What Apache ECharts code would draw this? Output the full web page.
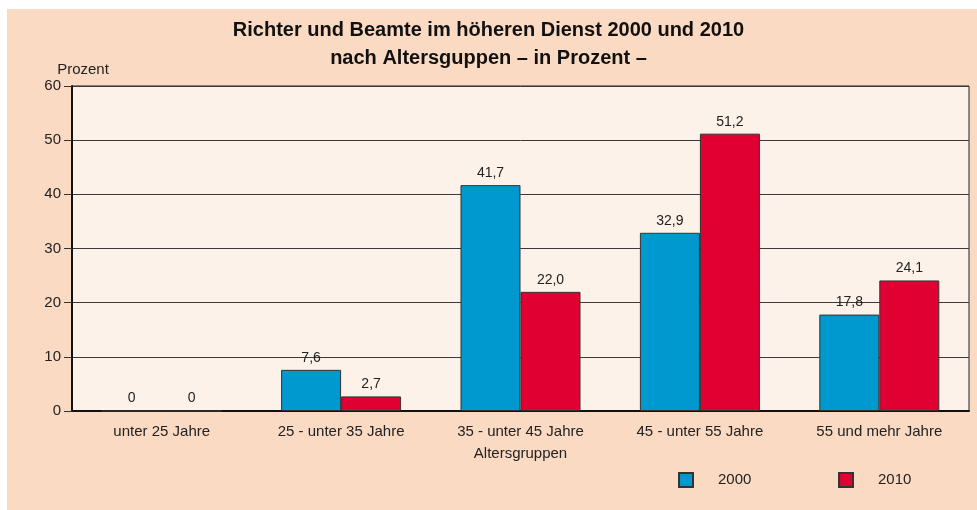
<!DOCTYPE html>
<html>
<head>
<meta charset="utf-8">
<style>
  html, body { margin: 0; padding: 0; background: #fff; }
  #chart { width: 977px; height: 510px; }
</style>
<script src="https://cdn.jsdelivr.net/npm/echarts@6/dist/echarts.min.js"></script>
</head>
<body>
<div id="chart"></div>
<script>
const categories = ['unter 25 Jahre', '25 - unter 35 Jahre', '35 - unter 45 Jahre', '45 - unter 55 Jahre', '55 und mehr Jahre']
const values2000 = [0, 7.6, 41.7, 32.9, 17.8]
const values2010 = [0, 2.7, 22.0, 51.2, 24.1]

const font = 'Liberation Sans, Arial, sans-serif'
const fmt = p => (p.value === 0 ? '0' : p.value.toFixed(1).replace('.', ','))

const chart = echarts.init(document.getElementById('chart'))
chart.setOption({
  backgroundColor: '#fff',
  animation: false,
  textStyle: { fontFamily: font },
  graphic: [{
    type: 'rect',
    z: -10,
    silent: true,
    shape: { x: 7, y: 9, width: 970, height: 501 },
    style: { fill: '#FBDAC3' }
  }],
  title: {
    text: 'Richter und Beamte im höheren Dienst 2000 und 2010\nnach Altersguppen – in Prozent –',
    left: 'center',
    top: 11,
    padding: [5, 5, 5, 26],
    textStyle: { fontFamily: font, fontSize: 20, fontWeight: 'bold', color: '#111', lineHeight: 28 }
  },
  legend: [{
    data: ['2000'],
    left: 678, top: 472,
    padding: 0,
    itemWidth: 14, itemHeight: 14,
    icon: 'rect',
    textStyle: { fontFamily: font, fontSize: 15, color: '#222', padding: [0, 0, 0, 20] }
  }, {
    data: ['2010'],
    left: 838, top: 472,
    padding: 0,
    itemWidth: 14, itemHeight: 14,
    icon: 'rect',
    textStyle: { fontFamily: font, fontSize: 15, color: '#222', padding: [0, 0, 0, 20] }
  }],
  grid: {
    left: 72, right: 8, top: 86, bottom: 99,
    show: true,
    backgroundColor: '#FDF2E9',
    borderColor: '#222',
    borderWidth: 1
  },
  xAxis: {
    type: 'category',
    data: categories,
    name: 'Altersgruppen',
    nameLocation: 'middle',
    nameGap: 35,
    nameTextStyle: { fontFamily: font, fontSize: 15, color: '#222' },
    axisLine: { lineStyle: { color: '#111', width: 2 } },
    axisTick: { show: false },
    axisLabel: { fontFamily: font, fontSize: 15, color: '#222', margin: 13 }
  },
  yAxis: {
    type: 'value',
    min: 0, max: 60, interval: 10,
    name: 'Prozent',
    nameGap: 9,
    nameTextStyle: { fontFamily: font, fontSize: 15, color: '#222', padding: [0, 0, 0, 22] },
    axisLine: { show: true, lineStyle: { color: '#111', width: 2 } },
    axisTick: { show: true, length: 8, lineStyle: { color: '#333' } },
    axisLabel: { fontFamily: font, fontSize: 15, color: '#222', margin: 11 },
    splitLine: { lineStyle: { color: '#3a3a3a', width: 1 } }
  },
  series: [{
    name: '2000',
    type: 'bar',
    data: values2000,
    barWidth: 60,
    barGap: '0%',
    itemStyle: { color: '#0099CF', borderColor: '#333', borderWidth: 1 },
    label: { show: true, position: 'top', distance: 5, formatter: fmt, fontFamily: font, fontSize: 14, color: '#222' }
  }, {
    name: '2010',
    type: 'bar',
    data: values2010,
    barWidth: 60,
    itemStyle: { color: '#E10032', borderColor: '#333', borderWidth: 1 },
    label: { show: true, position: 'top', distance: 5, formatter: fmt, fontFamily: font, fontSize: 14, color: '#222' }
  }]
})
</script>
</body>
</html>
